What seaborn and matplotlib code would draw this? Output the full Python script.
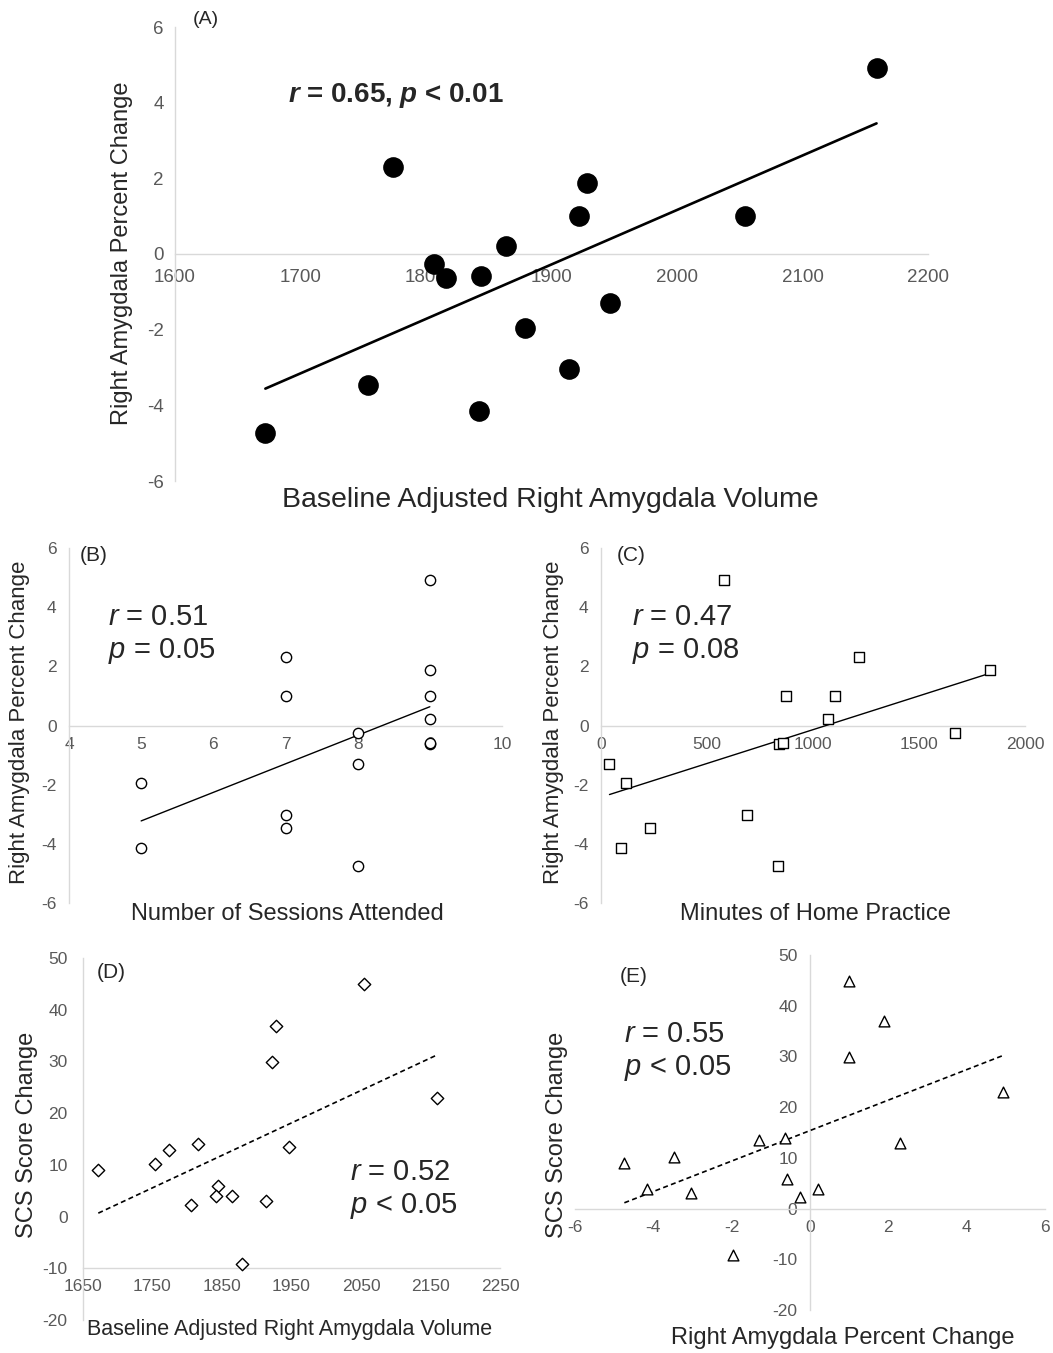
import matplotlib
matplotlib.use("Agg")
import matplotlib.pyplot as plt
import seaborn as sns

# one entry per participant
volume = [1672, 1754, 1774, 1806, 1816, 1844, 1842, 1864, 1879, 1914, 1922, 1928, 1947, 2054, 2159]
pct_change = [-4.74, -3.47, 2.30, -0.26, -0.63, -0.58, -4.15, 0.21, -1.96, -3.04, 1.00, 1.88, -1.30, 1.00, 4.92]
sessions = [8, 7, 7, 8, 9, 9, 5, 9, 5, 7, 7, 9, 8, 9, 9]
minutes = [836, 232, 1218, 1672, 841, 860, 96, 1070, 118, 689, 873, 1836, 40, 1105, 578]
scs_change = [9.0, 10.2, 12.9, 2.3, 14.0, 5.9, 3.9, 3.9, -9.1, 3.0, 29.9, 36.9, 13.5, 44.9, 23.0]

sns.set_theme(style="white")
plt.rcParams["font.family"] = ["Liberation Sans", "DejaVu Sans"]
plt.rcParams["axes.unicode_minus"] = False
plt.rcParams["mathtext.fontset"] = "custom"
plt.rcParams["mathtext.rm"] = "Liberation Sans"
plt.rcParams["mathtext.it"] = "Liberation Sans:italic"
plt.rcParams["mathtext.bf"] = "Liberation Sans:bold"
plt.rcParams["mathtext.bfit"] = "Liberation Sans:italic:bold"

W, H = 1053, 1353
fig = plt.figure(figsize=(W / 100, H / 100), dpi=100)


def box(l, r, t, b):
    return [l / W, 1 - b / H, (r - l) / W, (b - t) / H]


def txt(x, y, s, **kw):
    kw.setdefault("va", "center")
    fig.text(x / W, 1 - y / H, s, **kw)


def style(ax, xlim, ylim, xticks, yticks, xcross, ycross, size, xpad, ypad):
    ax.set_xlim(xlim)
    ax.set_ylim(ylim)
    ax.set_xticks(xticks)
    ax.set_yticks(yticks)
    ax.spines["top"].set_visible(False)
    ax.spines["right"].set_visible(False)
    ax.spines["left"].set_position(("data", xcross))
    ax.spines["bottom"].set_position(("data", ycross))
    for s in ["left", "bottom"]:
        ax.spines[s].set_color("#d9d9d9")
        ax.spines[s].set_linewidth(1)
    ax.tick_params(axis="x", length=0, labelsize=size, labelcolor="#595959", pad=xpad)
    ax.tick_params(axis="y", length=0, labelsize=size, labelcolor="#595959", pad=ypad)
    ax.set_xlabel("")
    ax.set_ylabel("")
    ax.patch.set_alpha(0)


# (A)
axA = fig.add_axes(box(175, 928, 27, 481))
sns.regplot(x=volume, y=pct_change, ax=axA, scatter=False, ci=None,
            line_kws=dict(color="black", lw=1.9, zorder=2.8))
sns.scatterplot(x=volume, y=pct_change, ax=axA, s=190, color="black",
                edgecolor="black", zorder=3)
style(axA, (1600, 2200), (-6, 6), range(1600, 2201, 100), range(-6, 7, 2),
      1600, 0, 13.5, 11, 8)
txt(193, 20, "(A)", fontsize=14, color="#262626")
txt(288, 95, r"$\mathbfit{r}$ = 0.65, $\mathbfit{p}$ < 0.01", fontsize=20,
    fontweight="bold")
txt(550, 500, "Baseline Adjusted Right Amygdala Volume", fontsize=20.5, ha="center")
txt(122, 253, "Right Amygdala Percent Change", fontsize=17, ha="center",
    rotation=90)

# (B)
axB = fig.add_axes(box(69, 502, 548, 903))
sns.regplot(x=sessions, y=pct_change, ax=axB, scatter=False, ci=None,
            line_kws=dict(color="black", lw=1.0, zorder=2.8))
sns.scatterplot(x=sessions, y=pct_change, ax=axB, s=55, marker="o",
                facecolor="white", edgecolor="black", linewidth=1, zorder=3)
style(axB, (4, 10), (-6, 6), range(4, 11), range(-6, 7, 2), 4, 0, 12.5, 8, 9)
txt(80, 556, "(B)", fontsize=15)
txt(108, 617, r"$r$ = 0.51", fontsize=21)
txt(108, 651, r"$p$ = 0.05", fontsize=21)
txt(287, 914, "Number of Sessions Attended", fontsize=17, ha="center")
txt(20, 722, "Right Amygdala Percent Change", fontsize=16, ha="center",
    rotation=90)

# (C)
axC = fig.add_axes(box(601, 1025, 548, 903))
sns.regplot(x=minutes, y=pct_change, ax=axC, scatter=False, ci=None,
            line_kws=dict(color="black", lw=1.0, zorder=2.8))
sns.scatterplot(x=minutes, y=pct_change, ax=axC, s=62, marker="s",
                facecolor="white", edgecolor="black", linewidth=1, zorder=3)
style(axC, (0, 2000), (-6, 6), range(0, 2001, 500), range(-6, 7, 2), 0, 0,
      12.5, 8, 9)
txt(617, 556, "(C)", fontsize=15)
txt(632, 617, r"$r$ = 0.47", fontsize=21)
txt(632, 651, r"$p$ = 0.08", fontsize=21)
txt(815, 914, "Minutes of Home Practice", fontsize=17, ha="center")
txt(553, 722, "Right Amygdala Percent Change", fontsize=16, ha="center",
    rotation=90)

# (D)
axD = fig.add_axes(box(83, 500, 958, 1320))
sns.regplot(x=volume, y=scs_change, ax=axD, scatter=False, ci=None,
            line_kws=dict(color="black", lw=1.2, ls=(0, (3, 2)), zorder=2.8))
sns.scatterplot(x=volume, y=scs_change, ax=axD, s=40, marker="D",
                facecolor="white", edgecolor="black", linewidth=1, zorder=3)
style(axD, (1650, 2250), (-20, 50), range(1650, 2251, 100), range(-20, 51, 10),
      1650, -10, 12.5, 8, 11)
txt(97, 972, "(D)", fontsize=15)
txt(350, 1172, r"$r$ = 0.52", fontsize=21)
txt(350, 1206, r"$p$ < 0.05", fontsize=21)
txt(290, 1329, "Baseline Adjusted Right Amygdala Volume", fontsize=15.5,
    ha="center")
txt(27, 1135, "SCS Score Change", fontsize=17, ha="center", rotation=90)

# (E)
axE = fig.add_axes(box(575, 1045, 955, 1310))
sns.regplot(x=pct_change, y=scs_change, ax=axE, scatter=False, ci=None,
            line_kws=dict(color="black", lw=1.2, ls=(0, (3, 2)), zorder=2.8))
sns.scatterplot(x=pct_change, y=scs_change, ax=axE, s=60, marker="^",
                facecolor="white", edgecolor="black", linewidth=1, zorder=3)
style(axE, (-6, 6), (-20, 50), range(-6, 7, 2), range(-20, 51, 10), 0, 0,
      12.5, 8, 9)
txt(620, 976, "(E)", fontsize=15)
txt(624, 1034, r"$r$ = 0.55", fontsize=21)
txt(624, 1068, r"$p$ < 0.05", fontsize=21)
txt(843, 1338, "Right Amygdala Percent Change", fontsize=17, ha="center")
txt(557, 1135, "SCS Score Change", fontsize=17, ha="center", rotation=90)

fig.savefig("out.png", dpi=100, facecolor="white")
